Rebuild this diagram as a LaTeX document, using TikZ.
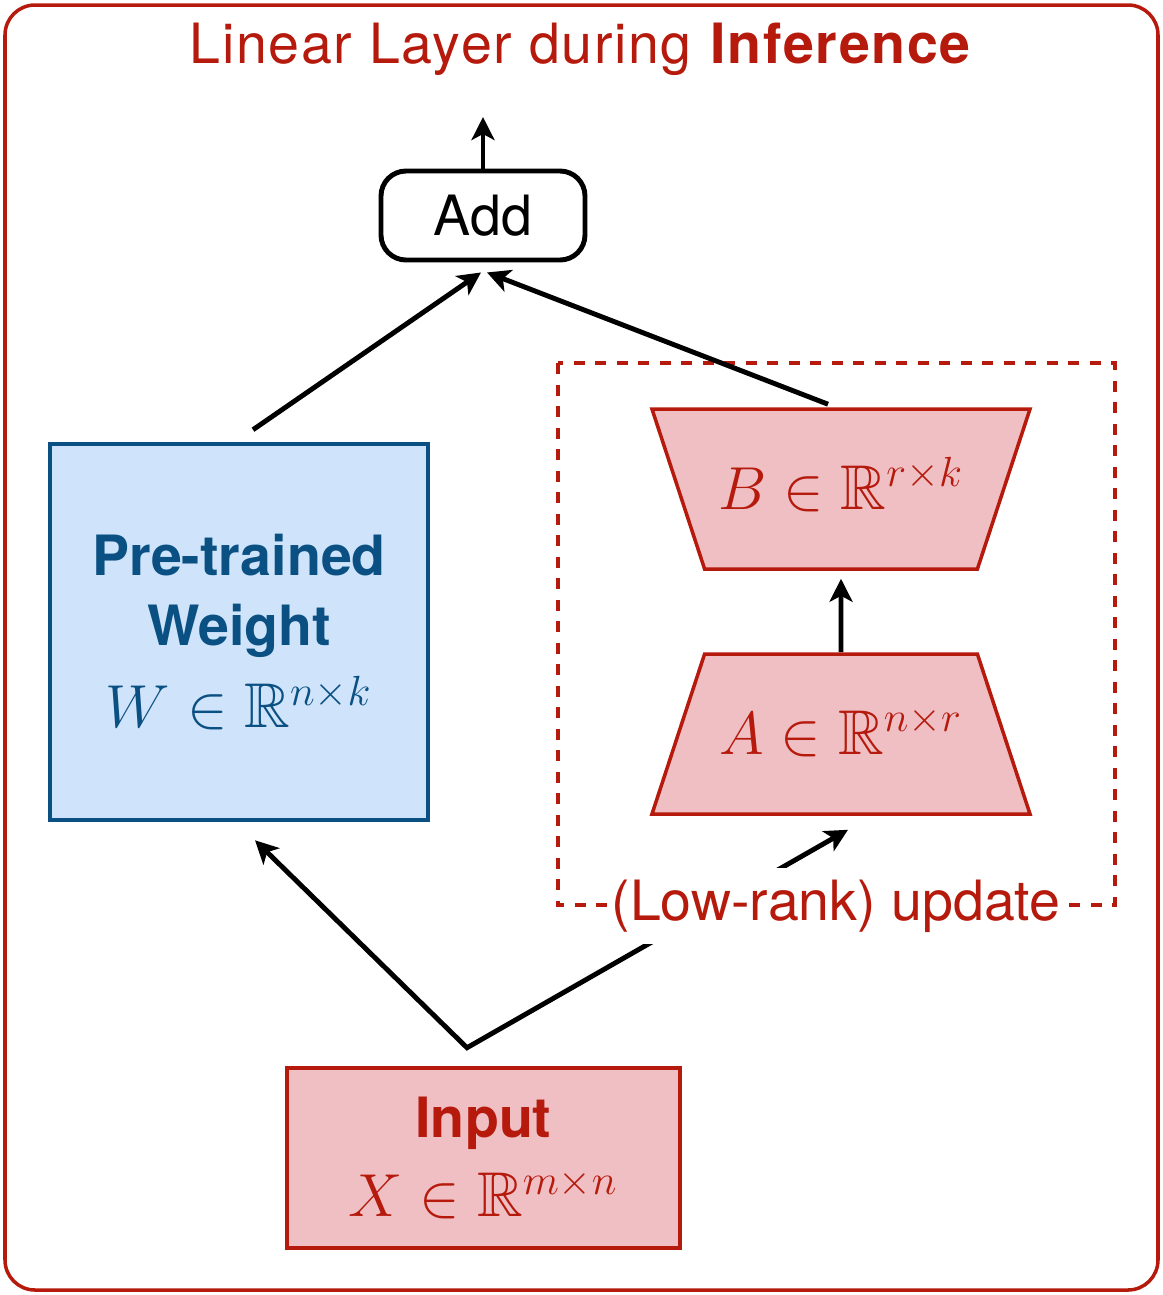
\documentclass[tikz,border=0pt]{standalone}
\usepackage{amssymb}
\usepackage{fontspec}
\setmainfont{TeX Gyre Heros}
\usetikzlibrary{arrows.meta,shapes.geometric}
\definecolor{loraRed}{RGB}{181,26,12}
\definecolor{loraPink}{RGB}{239,191,196}
\definecolor{loraBlue}{RGB}{10,80,130}
\definecolor{loraSky}{RGB}{207,228,250}
\newcommand{\txtsize}{\fontsize{15.8}{19.8}\selectfont}
\newcommand{\mathsize}{\fontsize{18}{21}\selectfont}
\tikzset{
  flow/.style={line width=1.4pt, >={Stealth[length=2.3mm,width=2.3mm,inset=0.6mm]}},
  lowrank/.style={trapezium, draw=loraRed, fill=loraPink, line width=1pt, text=loraRed,
    trapezium stretches body, trapezium angle=71.8, minimum width=3.78cm,
    text height=0.5cm, text depth=0.1cm, inner ysep=0.5cm, inner xsep=0pt},
}

\begin{document}
\begin{tikzpicture}[x=1cm,y=1cm]
		%%%%% START %%%%%
		
		\useasboundingbox (0,0) rectangle (11.63,-12.95);
		\draw[loraRed, line width=1pt, rounded corners=0.3cm] (0.05,-0.05) rectangle (11.58,-12.90);
		\node[anchor=base, text=loraRed, font=\txtsize\addfontfeature{LetterSpace=3}] (title) at (5.81,-0.63) {Linear Layer during \textbf{Inference}};
		
		\node[draw, line width=1.4pt, rounded corners=0.25cm, minimum width=2.04cm, minimum height=0.89cm, font=\txtsize] (add) at (4.83,-2.155) {Add};
		\coordinate (out) at (4.83,-1.17);
		\draw[flow,->] (add.north) -- (out);
		
		\node[draw=loraBlue, fill=loraSky, line width=1.3pt, minimum width=3.78cm, minimum height=3.76cm, align=center, text=loraBlue, font=\txtsize\bfseries] (weight) at (2.39,-6.32) {Pre-trained\\Weight\\[0.12cm]{\mathsize$W \in \mathbb{R}^{n\times k}$}};
		
		\draw[loraRed, line width=1.3pt, dash pattern=on 0.11cm off 0.105cm] (5.58,-3.63) rectangle (11.15,-9.05);
		
		\node[lowrank, shape border rotate=180] (b) at (8.41,-4.89) {\mathsize$B \in \mathbb{R}^{r\times k}$};
		\node[lowrank] (a) at (8.41,-7.34) {\mathsize$A \in \mathbb{R}^{n\times r}$};
		
		\node[draw=loraRed, fill=loraPink, line width=1.3pt, minimum width=3.93cm, minimum height=1.80cm, align=center, text=loraRed, font=\txtsize] (input) at (4.835,-11.58) {\textbf{Input}\\[0.1cm]{\mathsize$X \in \mathbb{R}^{m\times n}$}};
		\coordinate (split) at ([xshift=-0.165cm,yshift=0.18cm]input.north);
		
		\draw[flow,->] ([xshift=0.14cm,yshift=0.12cm]weight.north) -- ([xshift=-0.02cm,yshift=-0.1cm]add.south);
		\draw[flow,->] ([xshift=-0.13cm,yshift=0.03cm]b.north) -- ([xshift=0.04cm,yshift=-0.1cm]add.south);
		\draw[flow,->] (a.north) -- ([yshift=-0.08cm]b.south);
		\draw[flow,<->] ([xshift=0.16cm,yshift=-0.18cm]weight.south) -- (split) -- ([xshift=0.07cm,yshift=-0.14cm]a.south);
		
		\node[anchor=base, fill=white, inner xsep=0.04cm, inner ysep=0.12cm, text=loraRed, font=\txtsize] (update) at (8.36,-9.20) {(Low-rank) update};
		
		%%%%% END %%%%%
\end{tikzpicture}
\end{document}
